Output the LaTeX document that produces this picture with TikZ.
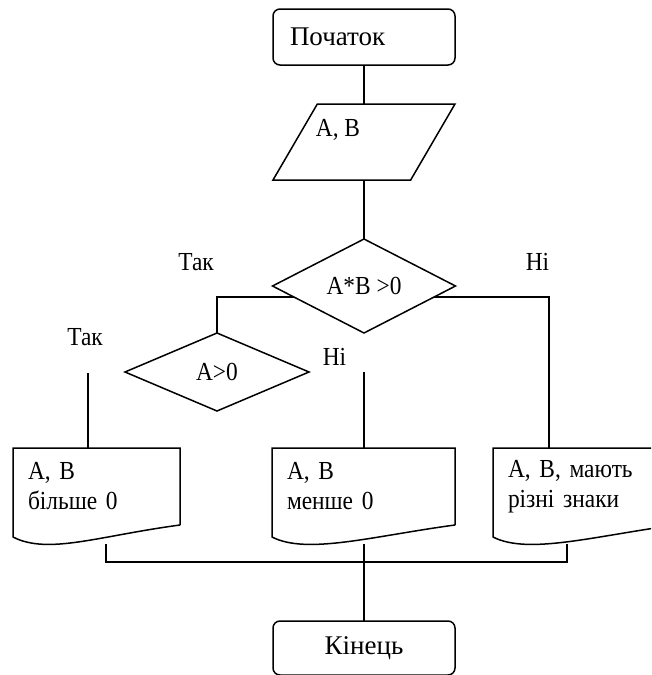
\documentclass[tikz,border=0pt]{standalone}
\usepackage{fontspec}
\setmainfont{Liberation Serif}
\newfontfamily\narrowserif[FakeStretch=0.9]{Liberation Serif}
\usetikzlibrary{shapes.geometric,calc}

\begin{document}
\begin{tikzpicture}[x=1pt,y=-1pt,line width=1.5pt,
  every node/.style={outer sep=0pt,inner sep=0pt},
  terminal/.style={draw,rectangle,rounded corners=7pt,minimum width=182pt,minimum height=56pt,
    font=\fontsize{27}{32}\selectfont},
  iobox/.style={draw,trapezium,trapezium left angle=64.6,trapezium right angle=115.4,
    trapezium stretches=true,minimum width=182pt,minimum height=76pt,inner sep=2pt},
  decision/.style={draw,diamond,aspect=2,font=\narrowserif\fontsize{26}{30}\selectfont},
  doc/.style={rectangle,minimum height=77pt,inner xsep=15pt,align=left,
    font=\narrowserif\fontsize{26}{30}\selectfont},
  lbl/.style={font=\narrowserif\fontsize{26}{30}\selectfont}
]
\useasboundingbox (0,0) rectangle (651,675);
\clip (0,0) rectangle (651,675);

% terminals, input and decisions
\node[terminal,text width=148pt,inner xsep=17pt,align=left] (start) at (364,37) {Початок};
\node[iobox] (io) at (364,142) {};
\node[lbl] (iotext) at (338,130) {A, B};
\node[decision,minimum width=183pt,minimum height=94pt] (d1) at (364,286) {A*B >0};
\node[decision,minimum width=184pt,minimum height=78pt] (d2) at (217,372) {A>0};

% output documents
\node[doc,minimum width=167pt,text width=137pt] (o1) at (96.5,486.5) {A, B\\більше 0};
\node[doc,minimum width=183pt,text width=153pt] (o2) at (363.5,486.5) {A, B\\менше 0};
\node[doc,minimum width=183pt,text width=153pt] (o3) at (584.5,486.5) {A, B, мають\\різні знаки};
\foreach \d in {o1,o2,o3}
  \draw (\d.south east) -- (\d.north east) -- (\d.north west) -- ($(\d.south west)+(0,12)$)
    .. controls +(35,18) and +(-82,11) .. (\d.south east);

\node[terminal,minimum height=54pt] (end) at (364,648) {Кінець};

% branch labels
\node[lbl] (yes1) at (196,262) {Так};
\node[lbl] (no1) at (537.5,262) {Ні};
\node[lbl] (yes2) at (85,337) {Так};
\node[lbl] (no2) at (334.5,357) {Ні};

% connectors
\draw (start.south) -- (io.north);
\draw (io.south) -- (d1.north);
\draw (d2.north) |- ($(d1.west)!0.23!(d1.south)$);
\draw ($(d1.east)!0.23!(d1.south)$) -| ($(o3.north west)+(56,0)$);

\coordinate (yesend) at (88,373);
\coordinate (noend) at (364,372);
\draw (yesend) -- (yesend |- o1.north);
\draw (noend) -- (noend |- o2.north);

\coordinate (m1) at (106,544);
\coordinate (m2) at (364,544);
\coordinate (m3) at (567,544);
\coordinate (j1) at (106,562);
\coordinate (j3) at (567,562);
\draw (m1) -- (j1) -- (j3) -- (m3);
\draw (m2) -- (m2 |- end.north);
\end{tikzpicture}
\end{document}
